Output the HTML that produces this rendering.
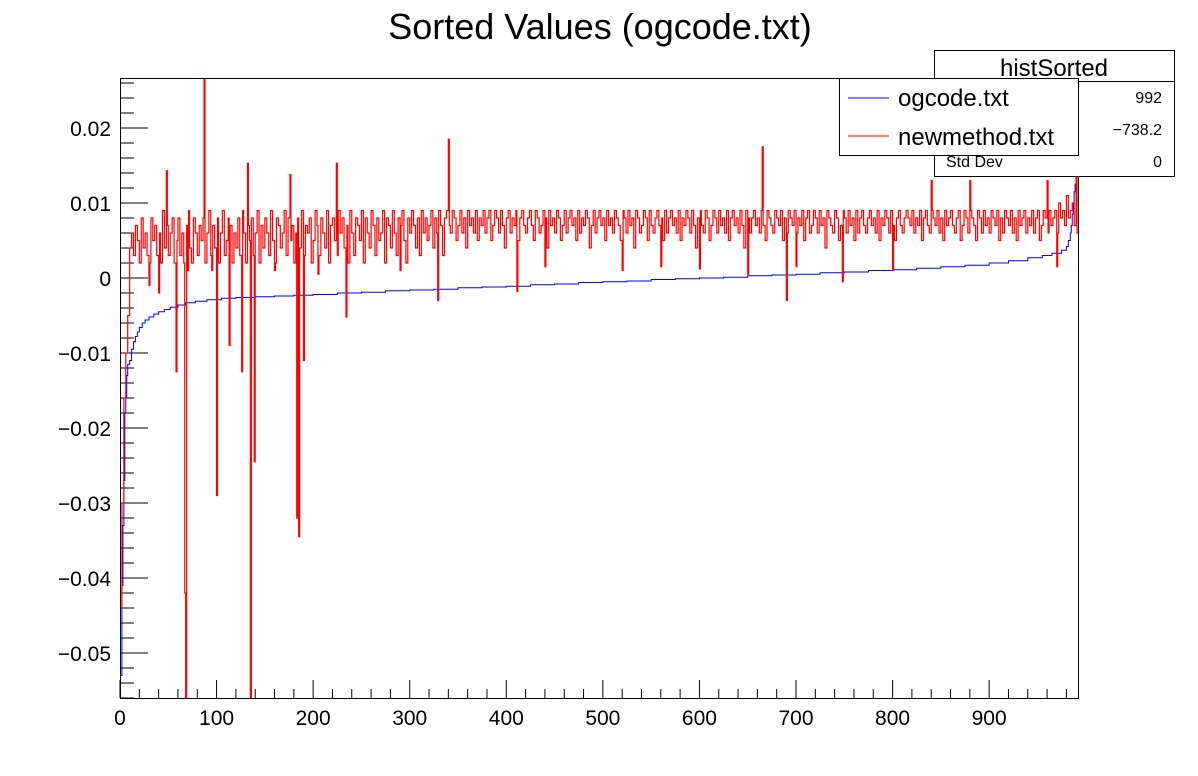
<!DOCTYPE html>
<html><head><meta charset="utf-8"><style>
body{margin:0;background:#fff;}
svg{display:block;font-family:"Liberation Sans",sans-serif;}
</style></head><body>
<svg id="chart" width="1198" height="776" viewBox="0 0 1198 776">
<rect x="0" y="0" width="1198" height="776" fill="#fff"/>
<text x="600" y="39" font-size="36" text-anchor="middle">Sorted Values (ogcode.txt)</text>
<defs><clipPath id="plotclip"><rect x="120" y="78" width="958" height="620"/></clipPath></defs>
<g id="axes"></g>
<g id="series" clip-path="url(#plotclip)"></g>
<rect x="120.5" y="78.5" width="958" height="620" fill="none" stroke="#000" stroke-width="1"/>
<g>
<rect x="934.5" y="50.5" width="240" height="126" fill="#fff" stroke="#000"/>
<line x1="934" y1="81.5" x2="1174" y2="81.5" stroke="#000"/>
<text x="1054" y="76" font-size="24" text-anchor="middle">histSorted</text>
<text x="946" y="103" font-size="16">Entries</text>
<text x="1162" y="103" font-size="16" text-anchor="end">992</text>
<text x="946" y="135" font-size="16">Mean</text>
<text x="1162" y="135" font-size="16" text-anchor="end">−738.2</text>
<text x="946" y="167" font-size="16">Std Dev</text>
<text x="1162" y="167" font-size="16" text-anchor="end">0</text>
</g>
<g>
<rect x="839.5" y="78.5" width="239" height="77" fill="#fff" stroke="#000"/>
<line x1="848" y1="98" x2="889" y2="98" stroke="#0000ff"/>
<text x="898" y="106" font-size="24">ogcode.txt</text>
<line x1="848" y1="136" x2="889" y2="136" stroke="#ff0000"/>
<text x="898" y="145" font-size="24">newmethod.txt</text>
</g>
</svg>
<script>
const xTicks = [0,100,200,300,400,500,600,700,800,900];
const yTicks = [0.02,0.01,0,-0.01,-0.02,-0.03,-0.04,-0.05];
const yTickLabels = ["0.02","0.01","0","−0.01","−0.02","−0.03","−0.04","−0.05"];
// ogcode.txt sorted values: [startBin, value]
const blueAnchors = [[0,-0.053],[2,-0.041],[3,-0.033],[4,-0.027],[5,-0.018],[6,-0.016],[7,-0.013],[8,-0.0115],[10,-0.011],[12,-0.0095],[14,-0.0085],[16,-0.0078],[18,-0.0072],[20,-0.0066],[23,-0.006],[26,-0.0056],[30,-0.0052],[35,-0.0048],[40,-0.0045],[46,-0.0042],[52,-0.0039],[60,-0.0036],[68,-0.0033],[78,-0.0031],[90,-0.0029],[105,-0.0027],[120,-0.0026],[140,-0.0025],[160,-0.0024],[180,-0.0023],[200,-0.0022],[225,-0.002],[250,-0.0019],[275,-0.0017],[300,-0.0016],[325,-0.0015],[350,-0.0013],[375,-0.0012],[400,-0.0011],[425,-0.0009],[450,-0.0008],[475,-0.0006],[500,-0.0005],[525,-0.0004],[550,-0.0002],[575,-0.0001],[600,0],[625,0.0001],[650,0.0003],[675,0.0004],[700,0.0005],[725,0.0007],[750,0.0008],[775,0.001],[800,0.0011],[825,0.0013],[850,0.0015],[875,0.0017],[900,0.002],[920,0.0023],[940,0.0027],[955,0.003],[965,0.0033],[975,0.0037],[980,0.0042],[982,0.005],[984,0.006],[985,0.007],[986,0.0085],[987,0.010],[988,0.0115],[989,0.0125],[990,0.0132],[991,0.014]];
// newmethod.txt, base level per 2-bin group (units 1e-3)
const redBase = [-44,-30,-16,-10,-5,4,6,3,7,5,
2,8,4,6,3,2,8,5,7,3,6,2,9,4,7,3,6,8,2,5,
8,3,6,2,7,9,4,2,8,6,3,7,5,8,2,6,9,3,7,4,
8,2,6,9,3,5,8,7,2,6,4,8,3,9,6,2,7,5,8,3,
6,9,2,7,4,8,6,3,9,5,2,8,7,4,6,9,3,8,5,7,
2,6,8,4,9,3,7,6,8,2,5,9,7,3,8,6,4,9,2,7,
8,5,3,9,6,8,4,7,2,9,6,3,8,7,5,9,2,8,6,4,
9,7,3,8,5,6,9,2,8,7,4,9,6,3,8,7,9,5,2,8,
6,9,7,4,8,3,9,6,8,5,7,9,4,8,6,9,7,3,8,9,
7,6,9,8,5,7,9,6,8,4,9,7,8,6,9,5,8,7,9,6,
8,9,5,7,9,8,6,9,7,4,8,9,6,8,7,9,5,8,9,7,
6,8,9,7,5,9,8,6,7,9,8,4,9,7,8,6,9,8,5,7,
9,6,8,9,7,8,5,9,6,8,7,9,8,4,7,9,6,8,9,7,
8,5,9,7,8,6,9,8,7,5,9,8,6,9,7,8,4,9,8,6,
7,9,8,5,9,7,6,8,9,7,8,5,9,6,8,9,7,8,6,9,
5,8,7,9,8,6,9,7,4,8,9,7,6,9,8,5,7,9,8,6,
9,7,8,6,9,5,8,9,7,8,6,9,7,4,9,8,6,8,9,7,
8,6,9,7,5,9,8,7,6,9,8,7,9,5,8,6,9,8,7,9,
6,8,7,9,5,8,9,6,7,9,8,6,9,7,8,4,9,8,7,6,
9,8,5,7,9,8,6,9,7,8,5,9,6,8,9,7,6,8,9,7,
8,6,9,5,8,7,9,8,6,9,7,5,8,9,7,6,8,9,8,7,
9,6,8,7,9,5,8,9,7,6,9,8,7,9,6,8,5,9,7,8,
9,7,6,8,9,5,7,9,8,6,9,8,7,5,9,8,6,9,7,8,
6,9,8,7,9,5,8,6,9,8,7,9,6,8,5,9,7,8,9,6,
8,7,9,6,8,9,5,7,9,8,6,9,7,8,9,6,10,8,9,7,
11,8,9,10,7,9,8,11,10,9,16,18];
// single-bin spikes: [bin, value 1e-3]
const redSpikes = [[87,27],[48,14.3],[67,-42],[68,-56],[58,-12.5],[100,-29],[113,-9],[126,-12.5],[135,-56],[139,-24.5],[132,15.3],[176,13.8],[183,-32],[185,-34.5],[190,-11],[224,15.3],[234,-5.2],[329,-3],[340,18.5],[411,-1.8],[665,17.5],[690,-3],[748,-0.5],[650,0.5],[70,1],[40,-2],[30,-1],[95,1],[160,1],[205,0.5],[290,1],[440,1.5],[520,1],[600,1.2],[560,1.5],[700,1.5],[800,1],[840,13],[880,13],[960,13],[970,1.5],[990,20],[991,6]];
const NBINS = 992;

const NS="http://www.w3.org/2000/svg";
const X0=120,X1=1078,Y0=78,Y1=698,YMAX=0.026667,YMIN=-0.056;
const X=b=>X0+(b/NBINS)*(X1-X0);
const Y=v=>Y0+(YMAX-v)/(YMAX-YMIN)*(Y1-Y0);
const axes=document.getElementById('axes');
const series=document.getElementById('series');
function mk(tag,attrs,parent){const e=document.createElementNS(NS,tag);for(const k in attrs)e.setAttribute(k,attrs[k]);parent.appendChild(e);return e;}

for(let v=0;v<=980;v+=20){
  const major=v%100===0;
  const t=mk('line',{x1:X(v),x2:X(v),y1:Y1,y2:Y1-(major?18:9),stroke:'#000'},axes);
  
  
}
xTicks.forEach(v=>{
  const t=mk('text',{x:X(v),y:725,'font-size':21,'text-anchor':'middle'},axes);
  t.textContent=String(v);
  
  
});
for(let i=-28;i<=13;i++){
  const v=i*0.002;
  if(v<YMIN||v>YMAX)continue;
  const major=i%5===0;
  const t=mk('line',{x1:X0,x2:X0+(major?28:14),y1:Y(v),y2:Y(v),stroke:'#000'},axes);
  
  
}
yTicks.forEach((v,i)=>{
  const t=mk('text',{x:111,y:Y(v)+8,'font-size':21,'text-anchor':'end'},axes);
  t.textContent=yTickLabels[i];
  
  
});

function blueVal(b){let v=blueAnchors[0][1];for(const a of blueAnchors){if(a[0]<=b)v=a[1];}return v;}
function redVal(b){for(const s of redSpikes){if(s[0]===b)return s[1]/1000;}return redBase[Math.min(redBase.length-1,Math.floor(b/2))]/1000;}
function stepPath(fn){
  let d='M'+X(0).toFixed(2)+' '+Y(fn(0)).toFixed(2);
  for(let b=0;b<NBINS;b++){
    const y=Y(fn(b)).toFixed(2);
    if(b>0)d+='V'+y;
    d+='H'+X(b+1).toFixed(2);
  }
  return d;
}
const bp=mk('path',{d:stepPath(blueVal),fill:'none',stroke:'#0000ff','stroke-width':1},series);


const rp=mk('path',{d:stepPath(redVal),fill:'none',stroke:'#ff0000','stroke-width':1.2},series);


</script>
</body></html>
